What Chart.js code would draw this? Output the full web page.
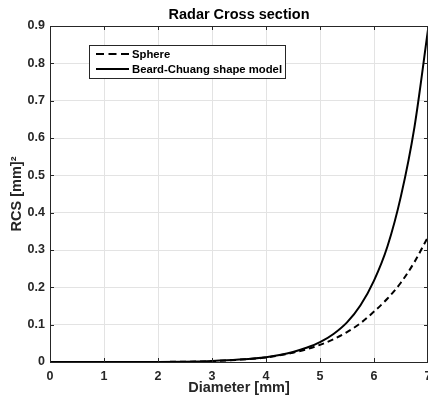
<!DOCTYPE html>
<html>
<head>
<meta charset="utf-8">
<script src="https://cdn.jsdelivr.net/npm/chart.js@4"></script>
<style>
  html, body { margin: 0; padding: 0; background: #fff; overflow: hidden; }
</style>
</head>
<body>
<canvas id="chart1" width="428" height="402"></canvas>
<script>
// diameter samples [mm]
var diameters = [0, 0.5, 1, 1.5, 2, 2.5, 3, 3.5, 4, 4.25, 4.5, 4.75, 5, 5.25, 5.5, 5.75, 6, 6.25, 6.5, 6.75, 7];
// radar cross section [mm^2]
var sphereRcs = [0, 0, 0, 0, 0.0002, 0.0007, 0.0021, 0.0062, 0.0118, 0.018, 0.025, 0.034, 0.046, 0.061, 0.08, 0.104, 0.135, 0.17, 0.213, 0.268, 0.335];
var beardChuangRcs = [0, 0, 0, 0.0001, 0.0002, 0.0009, 0.0028, 0.0066, 0.013, 0.019, 0.027, 0.038, 0.053, 0.075, 0.106, 0.152, 0.218, 0.31, 0.445, 0.63, 0.89];
var seriesNames = ["Sphere", "Beard-Chuang shape model"];
var chartTitle = "Radar Cross section";
var xTitle = "Diameter [mm]";
var yTitle = "RCS [mm]\u00b2";

var FONT = "'Liberation Sans', Arial, sans-serif";
var AXIS_COLOR = "#262626";

function toPoints(ys) {
  return diameters.map(function (d, i) { return { x: d, y: ys[i] }; });
}

// box, inward ticks, title and legend, drawn the MATLAB way
var matlabAxes = {
  id: "matlabAxes",
  afterDraw: function (chart) {
    var ctx = chart.ctx;
    var a = chart.chartArea;
    var xs = chart.scales.x, ys = chart.scales.y;
    ctx.save();
    ctx.strokeStyle = AXIS_COLOR;
    ctx.lineWidth = 1;
    ctx.strokeRect(Math.round(a.left) + 0.5, Math.round(a.top) + 0.5,
      Math.round(a.right - a.left) - 1, Math.round(a.bottom - a.top));

    var tl = 4;
    ctx.beginPath();
    xs.ticks.forEach(function (t) {
      var px = Math.round(xs.getPixelForValue(t.value)) + 0.5;
      ctx.moveTo(px, a.bottom); ctx.lineTo(px, a.bottom - tl);
      ctx.moveTo(px, a.top); ctx.lineTo(px, a.top + tl);
    });
    ys.ticks.forEach(function (t) {
      var py = Math.round(ys.getPixelForValue(t.value)) + 0.5;
      ctx.moveTo(a.left, py); ctx.lineTo(a.left + tl, py);
      ctx.moveTo(a.right, py); ctx.lineTo(a.right - tl, py);
    });
    ctx.stroke();

    // title centred over the axes
    ctx.fillStyle = "#000";
    ctx.font = "bold 14.5px " + FONT;
    ctx.textAlign = "center";
    ctx.textBaseline = "middle";
    ctx.fillText(chartTitle, (a.left + a.right) / 2, 15);

    // legend
    var lx = 89.5, ly = 45.5, lw = 196, lh = 33;
    ctx.fillStyle = "#fff";
    ctx.fillRect(lx, ly, lw, lh);
    ctx.strokeStyle = AXIS_COLOR;
    ctx.strokeRect(lx, ly, lw, lh);
    ctx.font = "bold 11.3px " + FONT;
    ctx.textAlign = "left";
    chart.data.datasets.forEach(function (ds, i) {
      var rowY = 54 + i * 15;
      ctx.strokeStyle = "#000";
      ctx.lineWidth = 2;
      ctx.setLineDash(ds.borderDash ? [8, 4.5] : []);
      ctx.beginPath();
      ctx.moveTo(96, rowY); ctx.lineTo(129, rowY);
      ctx.stroke();
      ctx.setLineDash([]);
      ctx.fillStyle = "#000";
      ctx.fillText(ds.label, 132, rowY + 0.5);
    });
    ctx.restore();
  }
};

function drawGraph() {
  var ctx = document.getElementById("chart1").getContext("2d");
  var myChart = new Chart(ctx, {
    type: "line",
    data: {
      datasets: [
        {
          label: seriesNames[0],
          data: toPoints(sphereRcs),
          borderColor: "#000",
          borderWidth: 2,
          borderDash: [6, 4],
          pointRadius: 0,
          cubicInterpolationMode: "monotone",
          fill: false,
        },
        {
          label: seriesNames[1],
          data: toPoints(beardChuangRcs),
          borderColor: "#000",
          borderWidth: 2,
          pointRadius: 0,
          cubicInterpolationMode: "monotone",
          fill: false,
        },
      ],
    },
    options: {
      responsive: false,
      animation: false,
      layout: { padding: { top: 26, right: 0, bottom: 0, left: 0 } },
      plugins: {
        legend: { display: false },
        title: { display: false },
        tooltip: { enabled: false },
      },
      scales: {
        x: {
          type: "linear",
          min: 0,
          max: 7,
          ticks: {
            stepSize: 1,
            color: AXIS_COLOR,
            font: { family: FONT, size: 12.5, weight: "bold" },
            padding: 7,
            maxRotation: 0,
          },
          grid: { color: "#e3e3e3", drawTicks: false },
          border: { display: false },
          title: {
            display: true,
            text: xTitle,
            color: AXIS_COLOR,
            font: { family: FONT, size: 14.5, weight: "bold" },
            padding: { top: 0, bottom: 5 },
          },
          afterFit: function (scale) {
            scale.height = 40;
            scale.paddingLeft = 0;
            scale.paddingRight = 0;
          },
        },
        y: {
          min: 0,
          max: 0.9,
          ticks: {
            stepSize: 0.1,
            color: AXIS_COLOR,
            font: { family: FONT, size: 12.5, weight: "bold" },
            padding: 5,
            callback: function (v) { return v === 0 ? "0" : v.toFixed(1); },
          },
          grid: { color: "#e3e3e3", drawTicks: false },
          border: { display: false },
          title: {
            display: true,
            text: yTitle,
            color: AXIS_COLOR,
            font: { family: FONT, size: 14.5, weight: "bold" },
            padding: { top: 8, bottom: 0 },
          },
          afterFit: function (scale) {
            scale.width = 50;
          },
        },
      },
    },
    plugins: [matlabAxes],
  });
}
window.onload = drawGraph;
</script>
</body>
</html>
